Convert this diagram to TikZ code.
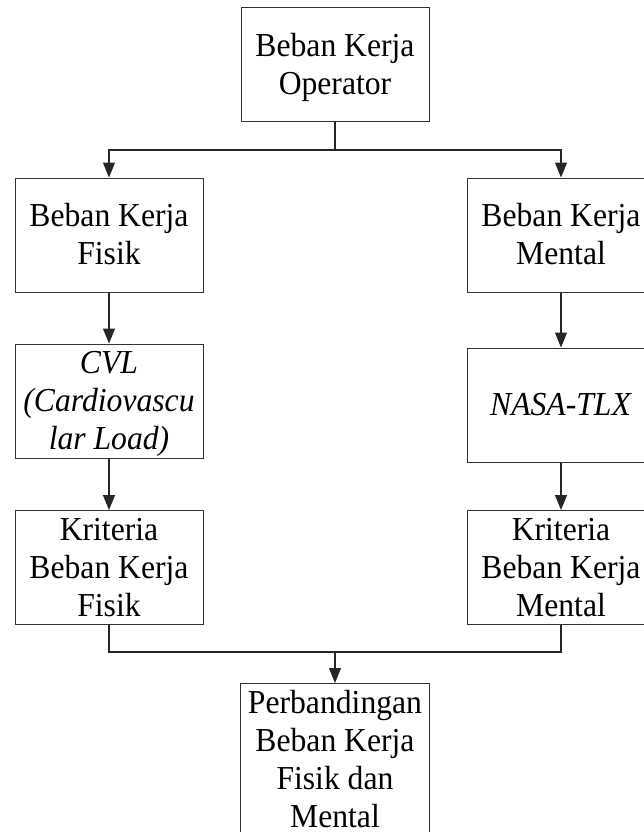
\documentclass[tikz,border=0pt]{standalone}
\usepackage{fontspec}
\setmainfont{Liberation Serif}[FakeStretch=0.945]
\usetikzlibrary{arrows.meta}
\newcommand\mystrut{\rule[-8.5pt]{0pt}{38pt}}
\newcommand\myendstrut{\rule[-1pt]{0pt}{30.5pt}}
\begin{document}
\begin{tikzpicture}[x=1pt,y=-1pt,
  boxtext/.style={line width=1pt, minimum width=188pt, inner sep=0pt,
    align=center, font=\fontsize{33.5}{38}\selectfont},
  box/.style={boxtext, draw=black!80},
  conn/.style={draw=black!85, line width=1.1pt},
  arr/.style={conn, -{Triangle[length=15pt,width=12pt]}}]
\clip (0,0) rectangle (644,832);
\useasboundingbox (0,0) rectangle (644,832);
\fill[white] (0,0) rectangle (644,832);
\node[box, minimum height=114pt] (op) at (335,65) {\mystrut Beban Kerja\\\mystrut Operator};
\node[box, minimum height=114pt] (fis) at (109,235) {\mystrut Beban Kerja\\\mystrut Fisik};
\node[box, minimum height=114pt] (men) at (561,235) {\mystrut Beban Kerja\\\mystrut Mental};
\node[box, minimum height=114pt] (cvl) at (109,401) {\mystrut\textit{CVL}\\\mystrut\textit{(Cardiovascu}\\\mystrut\textit{lar Load)}};
\node[box, minimum height=114pt] (nasa) at (561,405) {\mystrut\textit{NASA-TLX}};
\node[box, minimum height=113pt] (kf) at (109,567.5) {\mystrut Kriteria\\\mystrut Beban Kerja\\\mystrut Fisik};
\node[box, minimum height=113pt] (km) at (561,567.5) {\mystrut Kriteria\\\mystrut Beban Kerja\\\mystrut Mental};
\node[boxtext, anchor=north] (pb) at (335,683) {\mystrut Perbandingan\\\mystrut Beban Kerja\\\mystrut Fisik dan\\\myendstrut Mental};
\draw[draw=black!80, line width=1pt] (pb.north west) rectangle ([yshift=-12pt]pb.south east);
\coordinate (j1) at (335,150);
\coordinate (j2) at (335,652);
\draw[conn] (op) -- (j1);
\draw[arr] (j1) -| (fis);
\draw[arr] (j1) -| (men);
\draw[arr] (fis) -- (cvl);
\draw[arr] (men) -- (nasa);
\draw[arr] (cvl) -- (kf);
\draw[arr] (nasa) -- (km);
\draw[conn] (kf) |- (j2);
\draw[conn] (km) |- (j2);
\draw[arr] (j2) -- (pb);
\end{tikzpicture}
\end{document}
